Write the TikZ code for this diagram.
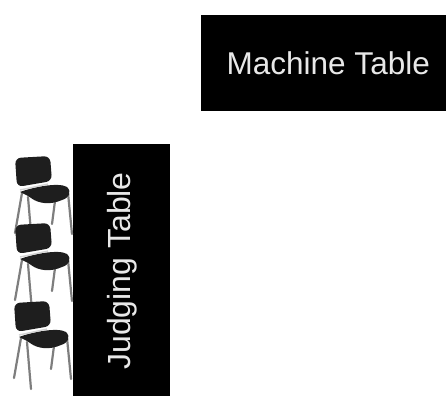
\documentclass[tikz,border=0pt]{standalone}
\usepackage{fontspec}
\setmainfont{Liberation Sans}
\usetikzlibrary{
    positioning,
    calc
}
\definecolor{TextoMesa}{HTML}{E8E8E8}
\definecolor{Assento}{HTML}{1E1E1E}
\definecolor{Perna}{HTML}{7E7E7E}
\definecolor{Barra}{HTML}{D4D4D4}
\tikzset{
    tablebox/.style={
        fill=black,
        text=TextoMesa,
        inner sep=0pt,
        font=\fontsize{32}{32}\selectfont
    },
    chairleg/.style={draw=Perna, line width=2.2pt, line cap=round},
    chair/.pic={
        \draw[chairleg] (7,36) -- (0,76);
        \draw[chairleg] (13,40) -- (17,87);
        \draw[chairleg] (40,44) -- (37,67);
        \draw[chairleg] (53,36) -- (57,77);
        \fill[Assento, rounded corners=6pt]
            (0,1) -- (35,-1) -- (37,24) -- (2,30) -- cycle;
        \fill[Assento]
            (5,35) .. controls (18,30) and (44,25) .. (52,30)
            .. controls (57,35) and (54,41) .. (47,43)
            .. controls (36,48) and (24,47) .. (16,41)
            .. controls (12,38) and (9,37) .. (5,35) -- cycle;
        \draw[Barra, line width=1.4pt] (5,33) -- (33,27);
    }
}

\begin{document}
\begin{tikzpicture}[x=1pt, y=-1pt]
    \useasboundingbox (0,0) rectangle (446,396);
    % tables
    \node[tablebox, minimum width=245pt, minimum height=96pt] (machine) at (323.5,63) {};
    \node[tablebox, anchor=west, font=\fontsize{31.5}{32}\selectfont] (machinelabel) at (226.5,63) {Machine Table};
    \node[tablebox, minimum width=97pt, minimum height=252pt] (judging) at (121.5,270) {};
    \node[tablebox, rotate=90, anchor=center] (judginglabel) at (122,271) {Judging Table};
    % chairs
    \pic at (15,157) {chair};
    \pic at (15,224) {chair};
    \pic at (14,302) {chair};
\end{tikzpicture}
\end{document}
